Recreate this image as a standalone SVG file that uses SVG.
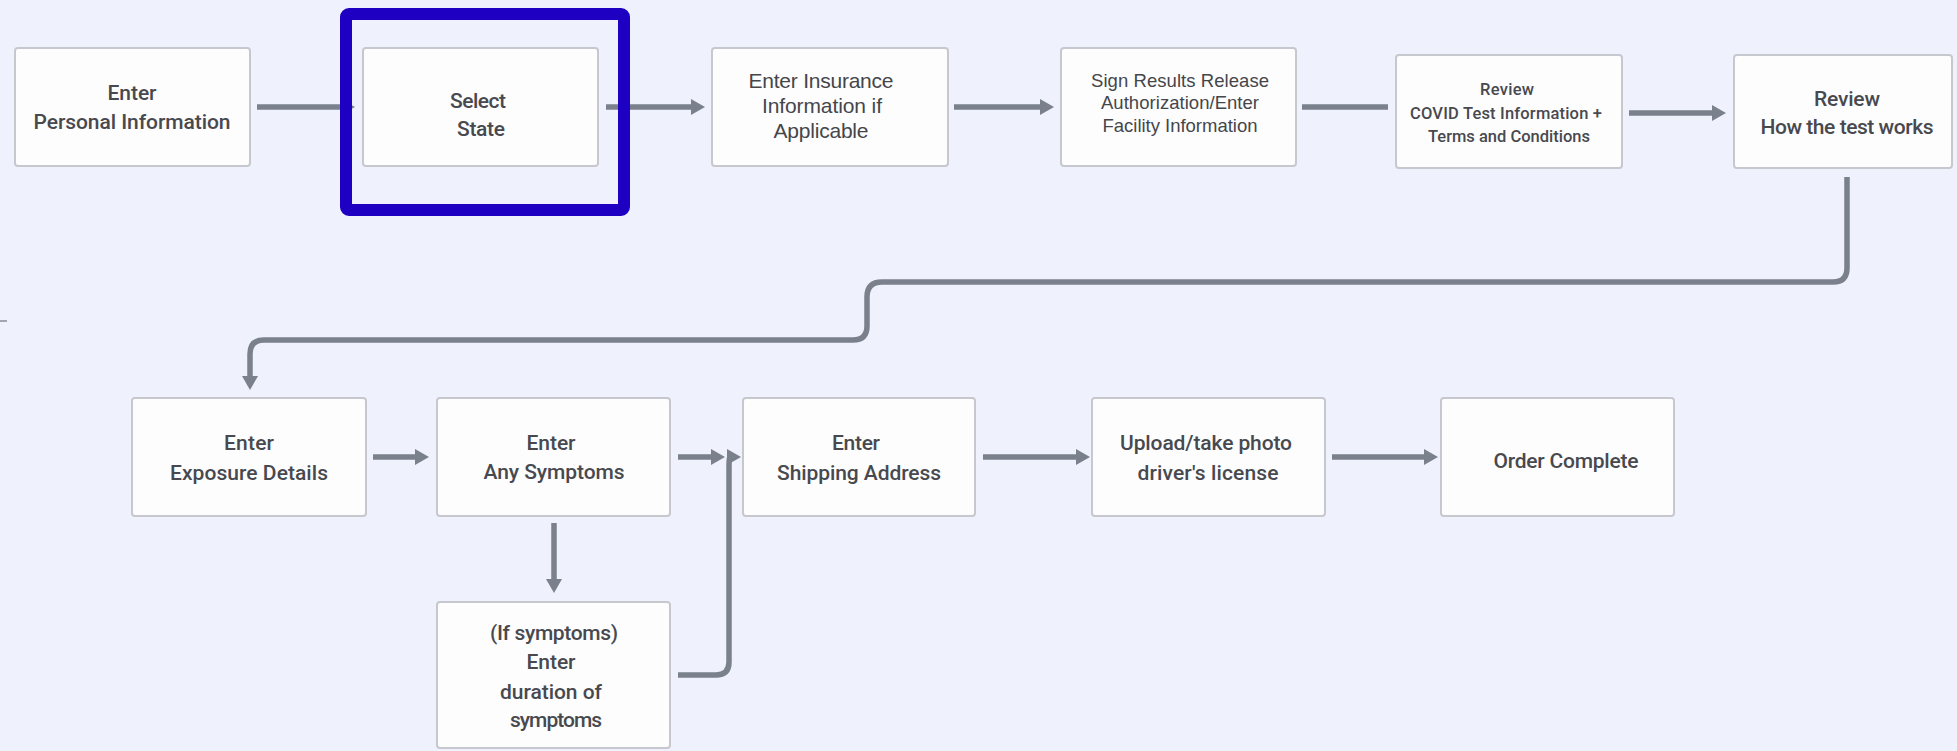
<svg xmlns="http://www.w3.org/2000/svg" width="1957" height="751" viewBox="0 0 1957 751">
<defs>
<style>
.bg{fill:#eff1fc}
.box{fill:#fdfdfe;stroke:#c6c8ce;stroke-width:2}
.t{font-family:Roboto,"Liberation Sans",sans-serif;font-size:21px;font-weight:500;fill:#48494e;text-anchor:middle;dominant-baseline:central}
.s{font-size:16.5px}
.a{font-family:"Liberation Sans",Arial,sans-serif;font-weight:400;fill:#45464a}
.c{fill:none;stroke:#7a808c;stroke-width:5.5}
.hl{fill:none;stroke:#1d00c2;stroke-width:12}
</style>
<marker id="ah" viewBox="0 0 14 16" refX="3" refY="8" markerWidth="14" markerHeight="16" markerUnits="userSpaceOnUse" orient="auto">
<path d="M0,0 L14,8 L0,16 z" fill="#7a808c"/>
</marker>
</defs>
<rect class="bg" x="0" y="0" width="1957" height="751"/>
<line x1="0" y1="321" x2="7" y2="321" stroke="#8a8d95" stroke-width="1.5"/>

<g id="connectors">
<path class="c" d="M257,107 H344" marker-end="url(#ah)"/>
<path class="c" d="M606,107 H694" marker-end="url(#ah)"/>
<path class="c" d="M954,107 H1043" marker-end="url(#ah)"/>
<path class="c" d="M1302,107 H1388"/>
<path class="c" d="M1629,113 H1715" marker-end="url(#ah)"/>
<path class="c" d="M1847,177 V268 Q1847,282 1833,282 H882 Q867,282 867,297 V326 Q867,340 853,340 H264 Q250,340 250,354 V379" marker-end="url(#ah)"/>
<path class="c" d="M373,457 H418" marker-end="url(#ah)"/>
<path class="c" d="M678,457 H714" marker-end="url(#ah)"/>
<path class="c" d="M678,675 H716 Q729,675 729,662 V468 Q729,457 730,457" marker-end="url(#ah)"/>
<path class="c" d="M554,523 V582" marker-end="url(#ah)"/>
<path class="c" d="M983,457 H1079" marker-end="url(#ah)"/>
<path class="c" d="M1332,457 H1427" marker-end="url(#ah)"/>
</g>

<g id="n1"><rect class="box" x="15" y="48" width="235" height="118" rx="3"/>
<text class="t" x="132" y="93" textLength="49">Enter</text>
<text class="t" x="132" y="122" textLength="197">Personal Information</text></g>

<g id="n2"><rect class="box" x="363" y="48" width="235" height="118" rx="3"/>
<text class="t" x="478" y="101" textLength="56">Select</text>
<text class="t" x="481" y="129" textLength="48">State</text></g>

<g id="n3"><rect class="box" x="712" y="48" width="236" height="118" rx="3"/>
<text class="t a" x="821" y="80" textLength="145">Enter Insurance</text>
<text class="t a" x="822" y="105" textLength="120">Information if</text>
<text class="t a" x="821" y="130" textLength="95">Applicable</text></g>

<g id="n4"><rect class="box" x="1061" y="48" width="235" height="118" rx="3"/>
<text class="t a" x="1180" y="80" style="font-size:18.5px" textLength="178">Sign Results Release</text>
<text class="t a" x="1180" y="102" style="font-size:18.5px" textLength="158">Authorization/Enter</text>
<text class="t a" x="1180" y="125" style="font-size:18.5px" textLength="155">Facility Information</text></g>

<g id="n5"><rect class="box" x="1396" y="55" width="226" height="113" rx="3"/>
<text class="t s" x="1507" y="89" textLength="54">Review</text>
<text class="t s" x="1506" y="113" textLength="192">COVID Test Information  +</text>
<text class="t s" x="1509" y="136" textLength="162">Terms and Conditions</text></g>

<g id="n6"><rect class="box" x="1734" y="55" width="218" height="113" rx="3"/>
<text class="t" x="1847" y="99" textLength="66">Review</text>
<text class="t" x="1847" y="127" textLength="173">How the test works</text></g>

<g id="n7"><rect class="box" x="132" y="398" width="234" height="118" rx="3"/>
<text class="t" x="249" y="443" textLength="50">Enter</text>
<text class="t" x="249" y="473" textLength="158">Exposure Details</text></g>

<g id="n8"><rect class="box" x="437" y="398" width="233" height="118" rx="3"/>
<text class="t" x="551" y="443" textLength="49">Enter</text>
<text class="t" x="554" y="472" textLength="141">Any Symptoms</text></g>

<g id="n9"><rect class="box" x="743" y="398" width="232" height="118" rx="3"/>
<text class="t" x="856" y="443" textLength="48">Enter</text>
<text class="t" x="859" y="473" textLength="164">Shipping Address</text></g>

<g id="n10"><rect class="box" x="1092" y="398" width="233" height="118" rx="3"/>
<text class="t" x="1206" y="443" textLength="172">Upload/take photo</text>
<text class="t" x="1208" y="473" textLength="141">driver's license</text></g>

<g id="n11"><rect class="box" x="1441" y="398" width="233" height="118" rx="3"/>
<text class="t" x="1566" y="461" textLength="145">Order Complete</text></g>

<g id="n12"><rect class="box" x="437" y="602" width="233" height="146" rx="3"/>
<text class="t" x="554" y="633" textLength="128">(If symptoms)</text>
<text class="t" x="551" y="662" textLength="49">Enter</text>
<text class="t" x="551" y="692" textLength="102">duration of</text>
<text class="t" x="556" y="720" textLength="92">symptoms</text></g>

<g id="highlight"><rect class="hl" x="346" y="14" width="278" height="196" rx="3"/></g>
</svg>
